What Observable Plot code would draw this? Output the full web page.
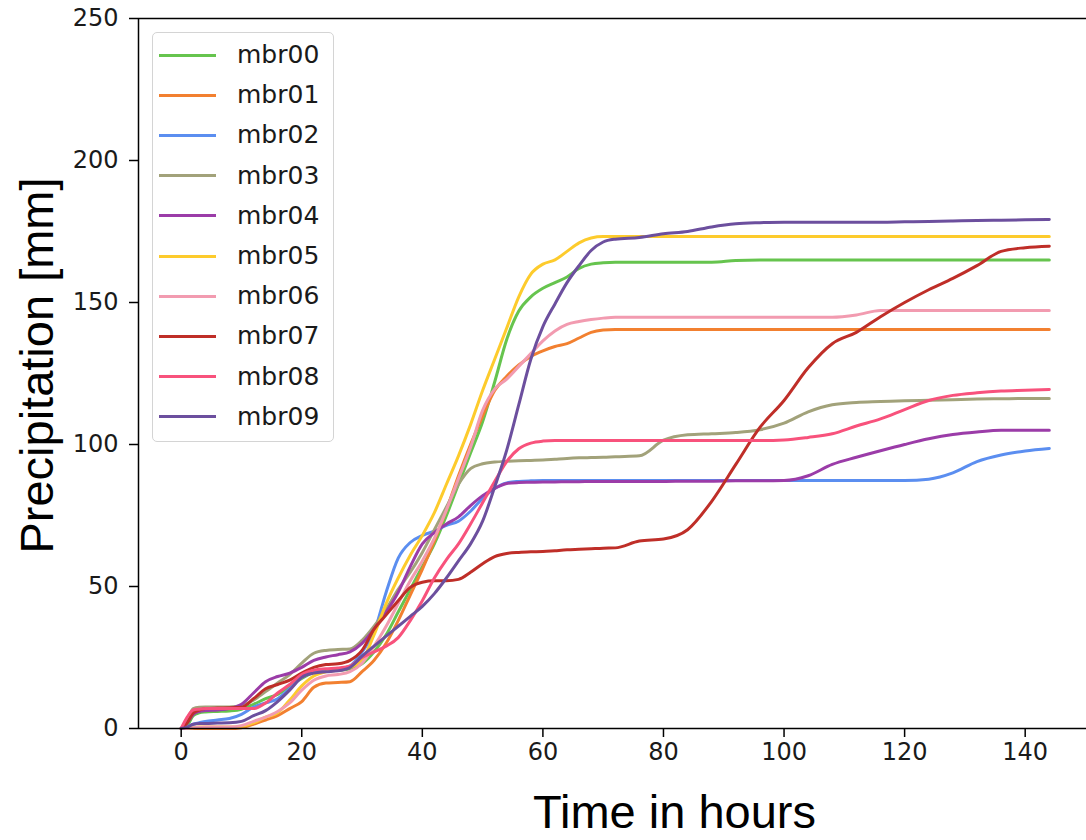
<!DOCTYPE html>
<html><head><meta charset="utf-8">
<script src="https://cdn.jsdelivr.net/npm/d3@7"></script>
<script src="https://cdn.jsdelivr.net/npm/@observablehq/plot@0.6"></script>
<style>
html,body{margin:0;padding:0;background:#fff;}
#wrap{position:relative;width:1086px;height:840px;overflow:hidden;}
#legend{position:absolute;left:152px;top:32px;width:182px;height:410px;box-sizing:border-box;border:1.5px solid #d4d4d4;border-radius:5px;background:rgba(255,255,255,0.85);font-family:"DejaVu Sans";font-size:25px;color:#1a1a1a;}
.row{position:absolute;left:0;height:40px;width:100%;}
.sw{position:absolute;left:6px;top:18.5px;width:57px;height:3px;}
.lb{position:absolute;left:84px;top:0;line-height:40px;}
</style></head>
<body><div id="wrap"><div id="chart"></div><div id="legend"></div></div>
<script>
const members = ["mbr00","mbr01","mbr02","mbr03","mbr04","mbr05","mbr06","mbr07","mbr08","mbr09"];
const colors = ["#66c44e","#f28030","#5b8ef0","#a2a27a","#9b3ca8","#fdcb2c","#f29bb0","#bf2e28","#f8527c","#6c4f9e"];
const xTicks = [0,20,40,60,80,100,120,140];
const yTicks = [0,50,100,150,200,250];
const xLabel = "Time in hours";
const yLabel = "Precipitation [mm]";

const hours = [0,1,2,3,4,6,8,10,12,14,16,18,20,22,24,26,28,30,32,34,36,38,40,42,44,46,48,50,52,54,56,58,60,62,64,66,68,70,72,76,80,84,88,92,96,100,104,108,112,116,120,124,128,132,136,140,144];

const mbr00 = [0,1,4.5,5.5,5.8, 6,6.2,6.8,8.5,10.5,12,15,17.6,19.8,20.4,20.5,21,22.8,27,33,41,49,57,65,75,86,97,108,122,137,147,152,155,157,159,162,163.5,164,164.2, 164.2,164.2,164.2,164.2,164.8,165,165,165,165,165,165,165,165,165,165,165,165,165];
const mbr01 = [0,0,0,0,0, 0,0,0.3,1.5,3,4.5,7,9.5,14.5,16,16.2,16.5,20,24,30,38,47,56,66,77,89,100,110,119,124,128,131,133,134.5,135.5,137.5,139.5,140.3,140.5, 140.5,140.5,140.5,140.5,140.5,140.5,140.5,140.5,140.5,140.5,140.5,140.5,140.5,140.5,140.5,140.5,140.5,140.5];
const mbr02 = [0,0.5,1.5,2,2.5, 3,3.5,5,7.5,9,10.5,14,18,20,20.5,21,22,27,34,48,60,65.5,68,69.5,71.5,73,76.5,81,84.5,86.5,87,87.2,87.3,87.3,87.3,87.3,87.3,87.3,87.3, 87.3,87.3,87.3,87.3,87.3,87.3,87.3,87.3,87.3,87.3,87.3,87.3,87.8,90,94,96.3,97.7,98.6];
const mbr03 = [0,3,7,7.5,7.6, 7.6,7.6,8,10,13,16,19,23,26.5,27.5,27.8,28,31,36,42,49,55,62,70,78,86,91.5,93.2,93.8,94.1,94.3,94.4,94.5,94.8,95.1,95.3,95.4,95.5,95.7, 96,101.5,103.4,103.8,104.2,105.2,107.5,111.5,114,114.8,115.1,115.4,115.6,115.8,116,116.1,116.2,116.2];
const mbr04 = [0,2,5,6,6.3, 6.5,7,8.5,12.5,16.5,18.3,19.5,21.5,24,25.2,26,27,30,35,41,48,57,65,69,72,74.5,78.5,82,84.5,86.3,86.6,86.7,86.8,86.8,86.9,86.9,87,87,87, 87,87,87.1,87.1,87.2,87.2,87.3,89,93,95.5,97.8,100,102,103.5,104.4,105,105,105];
const mbr05 = [0,0,0.3,0.5,0.5, 0.5,0.5,0.8,2,4,5.5,10,15,18.5,20,20.5,21.5,24,33,44,53,61,68,76,86,96,107,119,130,141,152,160,163.5,165,168,171,172.7,173.2,173.2, 173.2,173.2,173.2,173.2,173.2,173.2,173.2,173.2,173.2,173.2,173.2,173.2,173.2,173.2,173.2,173.2,173.2,173.2];
const mbr06 = [0,0,0.3,0.4,0.5, 0.5,0.5,1,2.5,4,6,9,13.5,17,18.5,19,20,23,29,36,44,52,59,67,77,88,99,112,119.5,123,127.5,132,136.5,140,142.3,143.3,144,144.5,144.8, 144.8,144.8,144.8,144.8,144.8,144.8,144.8,144.8,144.8,145.6,147.2,147.2,147.2,147.2,147.2,147.2,147.2,147.2];
const mbr07 = [0,2,5.5,6.5,7, 7.2,7.3,7.5,10.5,14,15.5,17,19.5,21.5,22.5,22.8,24,27.5,35,40,45,49.7,51.5,52,52,52.5,55,58,60.5,61.6,62,62.2,62.3,62.6,62.9,63.1,63.3,63.5,63.6, 66,66.7,70,80,93,106,115.5,127,135.5,139.5,145,150,154.5,158.5,163,168,169.3,169.8];
const mbr08 = [0,4,6.5,6.8,7, 7,7,7,7,9,12.5,15.5,19,20.5,21,21.3,22,25,27,29,32,38,45,53,59.5,65,72,79.5,87,94,98.5,100.5,101.2,101.4,101.4,101.4,101.4,101.4,101.4, 101.4,101.4,101.4,101.4,101.4,101.4,101.6,102.5,103.8,106.5,109,112.3,115.5,117.3,118.2,118.8,119.1,119.4];
const mbr09 = [0,0.5,1.5,1.8,1.8, 1.9,2,2.5,4.5,6.3,9.5,13.5,18,19.5,20,20.3,21.5,25.5,29,32.5,36,39.5,43,47.5,53,59,65,73,85,98,114,130,141.5,149.5,157,163,168.3,171.3,172.3, 172.9,174.2,175,176.6,177.7,178.1,178.3,178.3,178.3,178.3,178.3,178.4,178.5,178.7,178.9,179,179.1,179.2];

const series = [mbr00,mbr01,mbr02,mbr03,mbr04,mbr05,mbr06,mbr07,mbr08,mbr09];
const rows = members.flatMap((m, i) => hours.map((h, j) => ({member: m, hour: h, value: series[i][j]})));
const xDomain = [-7.08, 150.17];

const chart = Plot.plot({
  width: 1086, height: 840,
  marginLeft: 138, marginRight: 0, marginTop: 18, marginBottom: 112,
  style: {fontFamily: "DejaVu Sans", fontSize: "24px", background: "white", color: "#1a1a1a"},
  x: {domain: xDomain},
  y: {domain: [yTicks[0], yTicks[yTicks.length - 1]]},
  color: {domain: members, range: colors},
  marks: [
    Plot.line(rows, {x: "hour", y: "value", z: "member", stroke: "member", strokeWidth: 3, curve: "monotone-x"}),
    Plot.ruleY([yTicks[0], yTicks[yTicks.length - 1]], {stroke: "black", strokeWidth: 1.5}),
    Plot.ruleX([xDomain[0]], {stroke: "black", strokeWidth: 1.5}),
    Plot.axisX({ticks: xTicks, tickSize: 9, tickPadding: 5, fontSize: 24, label: null, stroke: "black", strokeWidth: 1.5}),
    Plot.axisY({ticks: yTicks, tickSize: 9, tickPadding: 11, fontSize: 24, label: null, stroke: "black", strokeWidth: 1.5}),
    Plot.text([xLabel], {text: d => d, frameAnchor: "bottom", textAnchor: "middle", lineAnchor: "middle", dx: 62, dy: 84, fontSize: 47, fontFamily: "Liberation Sans", fill: "black"}),
    Plot.text([yLabel], {text: d => d, frameAnchor: "left", textAnchor: "middle", lineAnchor: "middle", rotate: -90, dx: -101, dy: -8, fontSize: 47, fontFamily: "Liberation Sans", fill: "black"})
  ]
});
document.getElementById("chart").appendChild(chart);

const legend = document.getElementById("legend");
members.forEach((m, i) => {
  const row = document.createElement("div");
  row.className = "row";
  row.style.top = (2 + i * 40.2) + "px";
  const sw = document.createElement("div");
  sw.className = "sw";
  sw.style.background = colors[i];
  const lb = document.createElement("span");
  lb.className = "lb";
  lb.textContent = m;
  row.appendChild(sw); row.appendChild(lb);
  legend.appendChild(row);
});
</script></body></html>
